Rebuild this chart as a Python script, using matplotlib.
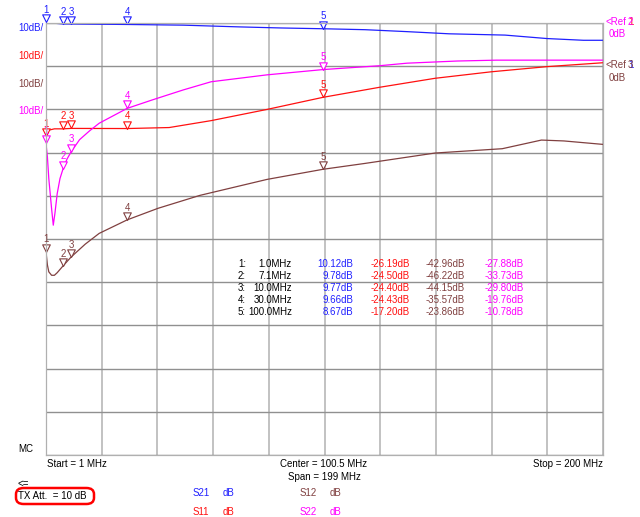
import numpy as np
import matplotlib.pyplot as plt
from matplotlib.path import Path
from matplotlib.patches import FancyBboxPatch

# trace data (MHz, dB)
freq_s21 = [1, 7.1, 10, 30, 50, 70, 85, 100, 115, 130, 145, 165, 180, 193, 200]
s21 = [10.12, 9.78, 9.77, 9.66, 9.5, 9.1, 8.85, 8.67, 8.45, 8.0, 7.5, 7.2, 6.4, 6.0, 6.0]

freq_s11 = [1, 2, 4, 7.1, 10, 30, 45, 60, 80, 100, 120, 140, 160, 180, 200]
s11 = [-26.19, -24.8, -24.5, -24.5, -24.4, -24.43, -24.2, -22.6, -20.0, -17.2, -14.9, -12.8, -11.3, -10.1, -9.2]

freq_s12 = [1, 1.5, 2, 3, 4, 5, 7.1, 10, 15, 20, 30, 41, 56, 80, 100, 115, 140, 164, 178, 186, 193, 200]
s12 = [-42.96, -46.0, -47.6, -48.4, -48.4, -47.8, -46.22, -44.15, -41.2, -38.7, -35.57, -32.9, -29.9, -26.2,
       -23.86, -22.5, -20.1, -19.1, -17.1, -17.3, -17.7, -18.1]

freq_s22 = [1, 1.5, 2, 3, 3.6, 4.2, 5, 6, 7.1, 8.5, 10, 13, 16.5, 20, 30, 39, 50, 60, 80, 100, 120, 130, 148, 162, 200]
s22 = [-27.88, -31, -36, -43, -46.8, -44, -39.5, -36, -33.73, -31.5, -29.8, -27.0, -25.0, -23.2, -19.76, -17.8,
       -15.5, -13.6, -12.0, -10.78, -9.9, -9.3, -8.8, -8.6, -8.6]

# marker readout
mk_num = ['1', '2', '3', '4', '5']
mk_freq = [1.0, 7.1, 10.0, 30.0, 100.0]
mk_s21 = [10.12, 9.78, 9.77, 9.66, 8.67]
mk_s11 = [-26.19, -24.50, -24.40, -24.43, -17.20]
mk_s12 = [-42.96, -46.22, -44.15, -35.57, -23.86]
mk_s22 = [-27.88, -33.73, -29.80, -19.76, -10.78]

c21, c11, c12, c22 = '#2020ff', '#ff1010', '#804040', '#ff00ff'
plt.rcParams['font.family'] = ['Liberation Sans', 'DejaVu Sans']
fs = 7

W, H = 640, 517
def px(x, y):
    return x / W, 1 - y / H

fig = plt.figure(figsize=(6.4, 5.17), dpi=100)
ax = fig.add_axes([46 / W, 1 - 455 / H, 557 / W, 432 / H])
ax.set_xlim(1, 200)
ax.set_ylim(-100, 0)      # S11, S22: ref 0dB at top line
ax2 = ax.twinx()
ax2.set_ylim(-90, 10)     # S21, S12: ref 0dB one division down

ax.set_xticks(np.linspace(1, 200, 11))
ax.set_yticks(np.arange(-100, 1, 10))
ax.xaxis.grid(True, color='#b8b8b8', lw=1.2)
ax.yaxis.grid(True, color='#909090', lw=1.0)
for a in (ax, ax2):
    a.tick_params(length=0, labelleft=False, labelbottom=False, labelright=False)
    for s in a.spines.values():
        s.set_color('#b0b0b0')
ax2.set_yticks([])

tri = Path([(-0.5, 1.0), (0.5, 1.0), (0, 0), (-0.5, 1.0)],
           [Path.MOVETO, Path.LINETO, Path.LINETO, Path.CLOSEPOLY])

traces = [(ax2, freq_s21, s21, mk_s21, c21), (ax, freq_s11, s11, mk_s11, c11),
          (ax2, freq_s12, s12, mk_s12, c12), (ax, freq_s22, s22, mk_s22, c22)]
for a, f, v, mv, c in traces:
    a.plot(f, v, color=c, lw=0.9)
    a.plot(mk_freq, mv, ls='none', marker=tri, ms=11, mfc='white', mec=c, mew=0.8, clip_on=False)
    for n, mf, m in zip(mk_num, mk_freq, mv):
        a.annotate(n, (mf, m), xytext=(0, 5.3), textcoords='offset points', ha='center', va='bottom',
                   fontsize=fs, color=c, annotation_clip=False)

# marker table
rows_y = [264, 276, 288, 300, 312]
for i, y in enumerate(rows_y):
    fig.text(*px(238, y), mk_num[i] + ':', fontsize=fs, va='center', ha='left')
    fig.text(*px(292, y), '%.1fMHz' % mk_freq[i], fontsize=fs, va='center', ha='right')
    fig.text(*px(353, y), '%.2fdB' % mk_s21[i], fontsize=fs, va='center', ha='right', color=c21)
    fig.text(*px(410, y), '%.2fdB' % mk_s11[i], fontsize=fs, va='center', ha='right', color=c11)
    fig.text(*px(465, y), '%.2fdB' % mk_s12[i], fontsize=fs, va='center', ha='right', color=c12)
    fig.text(*px(524, y), '%.2fdB' % mk_s22[i], fontsize=fs, va='center', ha='right', color=c22)

# scale labels on the left
for y, c in zip([28, 56, 84, 111], [c21, c11, c12, c22]):
    fig.text(*px(44, y), '10dB/', fontsize=fs, color=c, ha='right', va='center')

# reference labels on the right
fig.text(*px(605, 22), '<Ref', fontsize=fs, color=c22, va='center')
fig.text(*px(628, 22), '1', fontsize=fs, color=c11, va='center')
fig.text(*px(628, 22), '2', fontsize=fs, color=c22, va='center')
fig.text(*px(609, 34), '0dB', fontsize=fs, color=c22, va='center')
fig.text(*px(605, 65), '<Ref', fontsize=fs, color=c12, va='center')
fig.text(*px(628, 65), '1', fontsize=fs, color=c21, va='center')
fig.text(*px(628, 65), '3', fontsize=fs, color=c12, va='center')
fig.text(*px(609, 78), '0dB', fontsize=fs, color=c12, va='center')

# bottom annotations
fig.text(*px(18, 449), 'MC', fontsize=fs, va='center')
fig.text(*px(47, 464), 'Start = 1 MHz', fontsize=fs, va='center')
fig.text(*px(324, 464), 'Center = 100.5 MHz', fontsize=fs, va='center', ha='center')
fig.text(*px(324, 477), 'Span = 199 MHz', fontsize=fs, va='center', ha='center')
fig.text(*px(603, 464), 'Stop = 200 MHz', fontsize=fs, va='center', ha='right')
fig.text(*px(18, 484), '<=', fontsize=fs, va='center')
fig.text(*px(18, 496), 'TX Att.  = 10 dB', fontsize=fs, va='center')
x0, y0 = px(16, 504)
x1, y1 = px(94, 488)
fig.patches.append(FancyBboxPatch((x0, y0), x1 - x0, y1 - y0, boxstyle='round,pad=0,rounding_size=0.012',
                                  transform=fig.transFigure, fill=False, ec='#ff0000', lw=1.8))

for x, y, name, c in [(193, 493, 'S21', c21), (300, 493, 'S12', c12), (193, 512, 'S11', c11), (300, 512, 'S22', c22)]:
    fig.text(*px(x, y), name, fontsize=fs, color=c, va='center')
    fig.text(*px(x + 30, y), 'dB', fontsize=fs, color=c, va='center')

plt.savefig('out.png', dpi=100)
